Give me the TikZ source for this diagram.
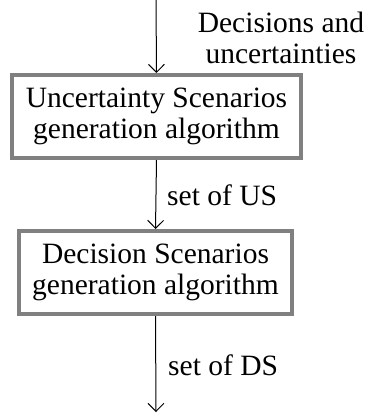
\documentclass[tikz,border=0pt]{standalone}
\usepackage{fontspec}
\setmainfont{Liberation Serif}
\usepackage{tikz}
\usetikzlibrary{arrows.meta}
\usetikzlibrary{positioning}

\begin{document}
\begin{tikzpicture}[>={Straight Barb[length=8pt,width=16pt]},x=1pt,y=1pt,font=\fontsize{29.5}{31}\selectfont,
		genbox/.style={rectangle, draw = gray, line width = 4pt, align = center, minimum height = 83pt, inner sep = 0pt},
		flow/.style={->, line width = 1pt}]
			\useasboundingbox (0, 0) rectangle (374, -414);
			\coordinate (top) at (156, 0);
			\coordinate (bottom) at (156, -412);
			\node[genbox, minimum width = 289pt] (us) at (156.5, -116.5) {Uncertainty Scenarios\\generation algorithm};
			\node[genbox, minimum width = 273pt] (ds) at (155.5, -272.5) {Decision Scenarios\\generation algorithm};
			\node[align = center] (inp) at (281, -38) {Decisions and\\uncertainties};
			\node[anchor = base west, inner sep = 0pt] (uslbl) at (167, -205) {set of US};
			\node[anchor = base west, inner sep = 0pt] (dslbl) at (168, -375) {set of DS};
			\draw[flow] (top) -- (us.north);
			\draw[flow] (us.south) -- (ds.north);
			\draw[flow] (ds.south) -- (bottom);
		\end{tikzpicture}
\end{document}
